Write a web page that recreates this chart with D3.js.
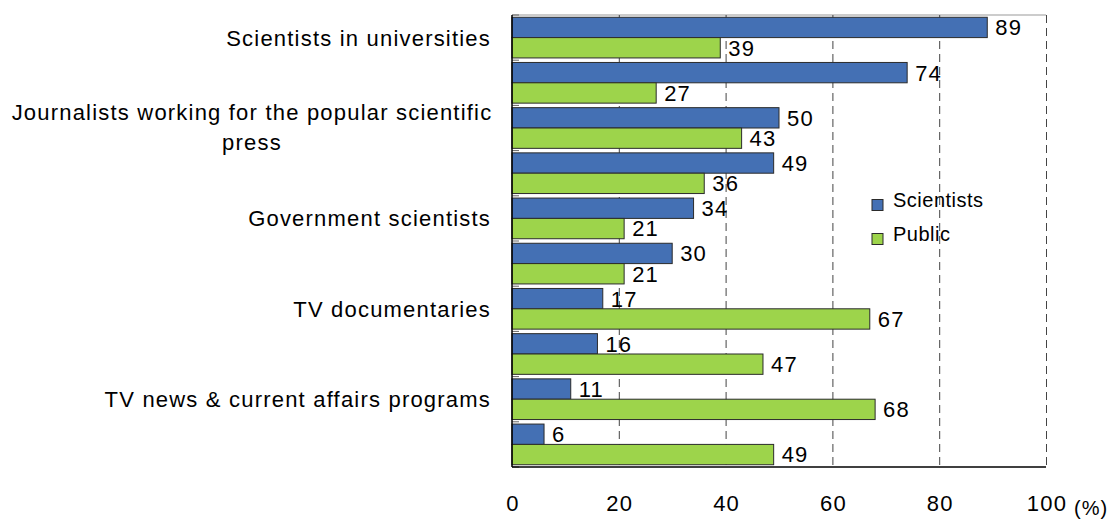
<!DOCTYPE html>
<html>
<head>
<meta charset="utf-8">
<script src="https://cdn.jsdelivr.net/npm/d3@7"></script>
<style>
  body { margin: 0; background: #fff; }
  svg { font-family: "Liberation Sans", Arial, sans-serif; }
</style>
</head>
<body>
<svg id="chart" width="1114" height="520"></svg>
<script>
// category labels (only every other one is shown on the original chart)
var categories = ["Scientists in universities", "", "Journalists working for the popular scientific\npress", "",
    "Government scientists", "", "TV documentaries", "", "TV news & current affairs programs", ""];
var scientists = [89, 74, 50, 49, 34, 30, 17, 16, 11, 6];
var publicVals = [39, 27, 43, 36, 21, 21, 67, 47, 68, 49];
var seriesNames = ["Scientists", "Public"];
var xTicks = [0, 20, 40, 60, 80, 100];

var svg = d3.select("#chart");
var margin = {left: 512, top: 15, right: 68, bottom: 53};
var width = 1114 - margin.left - margin.right;
var height = 520 - margin.top - margin.bottom;

var color = d3.scaleOrdinal().domain(seriesNames).range(["#4470b4", "#9dd44b"]);

var x = d3.scaleLinear().domain([0, 100]).range([margin.left, margin.left + width]);
var y = d3.scaleBand().domain(d3.range(categories.length))
    .range([margin.top, margin.top + height]).paddingInner(0.1).paddingOuter(0.05);
var ySub = d3.scaleBand().domain(seriesNames).range([0, y.bandwidth()]);

// top border
svg.append("line")
    .attr("x1", x(0)).attr("x2", x(100))
    .attr("y1", margin.top).attr("y2", margin.top)
    .attr("stroke", "#999").attr("stroke-width", 1);

// dashed gridlines
svg.selectAll(".grid")
    .data(xTicks.slice(1))
    .enter()
    .append("line")
    .attr("class", "grid")
    .attr("x1", d => x(d) + 0.5).attr("x2", d => x(d) + 0.5)
    .attr("y1", margin.top).attr("y2", margin.top + height)
    .attr("stroke", "#444")
    .attr("stroke-dasharray", "8,5");

// category ticks on the left axis
var step = height / categories.length;
svg.selectAll(".ytick")
    .data(d3.range(categories.length + 1))
    .enter()
    .append("line")
    .attr("x1", x(0)).attr("x2", x(0) + 7)
    .attr("y1", d => margin.top + d * step).attr("y2", d => margin.top + d * step)
    .attr("stroke", "#666");

// bars
var data = categories.map(function (c, i) {
    return [{s: "Scientists", v: scientists[i], i: i}, {s: "Public", v: publicVals[i], i: i}];
});
var groups = svg.selectAll(".group")
    .data(data)
    .enter()
    .append("g")
    .attr("transform", (d, i) => "translate(0," + y(i) + ")");

groups.selectAll("rect")
    .data(d => d)
    .enter()
    .append("rect")
    .attr("x", x(0))
    .attr("y", d => ySub(d.s))
    .attr("width", d => x(d.v) - x(0))
    .attr("height", ySub.bandwidth())
    .attr("fill", d => color(d.s))
    .attr("stroke", "#2b2b2b")
    .attr("stroke-width", 1);

groups.selectAll(".val")
    .data(d => d)
    .enter()
    .append("text")
    .attr("x", d => x(d.v) + 8)
    .attr("y", d => ySub(d.s) + ySub.bandwidth() / 2)
    .attr("dy", "0.36em")
    .style("font-size", "22px")
    .style("letter-spacing", "1.2px")
    .attr("fill", "#000")
    .text(d => d.v);

// axes lines
svg.append("line")
    .attr("x1", x(0)).attr("x2", x(0))
    .attr("y1", margin.top).attr("y2", margin.top + height)
    .attr("stroke", "#000").attr("stroke-width", 1.5);
svg.append("line")
    .attr("x1", x(0)).attr("x2", x(100))
    .attr("y1", margin.top + height).attr("y2", margin.top + height)
    .attr("stroke", "#000").attr("stroke-width", 1.5);

// x tick labels
svg.selectAll(".xlab")
    .data(xTicks)
    .enter()
    .append("text")
    .attr("x", d => x(d) + 1)
    .attr("y", 511)
    .attr("text-anchor", "middle")
    .style("font-size", "22px")
    .style("letter-spacing", "1.2px")
    .text(d => d);
svg.append("text")
    .attr("x", 1074)
    .attr("y", 515)
    .style("font-size", "20px")
    .style("letter-spacing", "1px")
    .text("(%)");

// category labels
categories.forEach(function (c, i) {
    if (!c) return;
    var lines = c.split("\n");
    var cy = y(i) + y.bandwidth() / 2;
    var lh = 30;
    var t = svg.append("text")
        .style("font-size", "22px")
        .style("letter-spacing", "1.2px")
        .attr("fill", "#000");
    if (lines.length === 1) {
        t.attr("x", 491).attr("y", cy).attr("dy", "0.36em")
            .attr("text-anchor", "end").text(c);
    } else {
        t.attr("text-anchor", "middle");
        lines.forEach(function (l, k) {
            t.append("tspan")
                .attr("x", 252)
                .attr("y", cy - 1 + (k - (lines.length - 1) / 2) * lh)
                .attr("dy", "0.36em")
                .text(l);
        });
    }
});

// legend
var legend = svg.selectAll(".legend")
    .data(seriesNames)
    .enter()
    .append("g")
    .attr("transform", (d, i) => "translate(872," + (199.5 + i * 34) + ")");
legend.append("rect")
    .attr("width", 11).attr("height", 11)
    .attr("fill", d => color(d))
    .attr("stroke", "#2b2b2b");
legend.append("text")
    .attr("x", 21).attr("y", 7.5)
    .style("font-size", "20px")
    .style("letter-spacing", "0.5px")
    .text(d => d);
</script>
</body>
</html>
